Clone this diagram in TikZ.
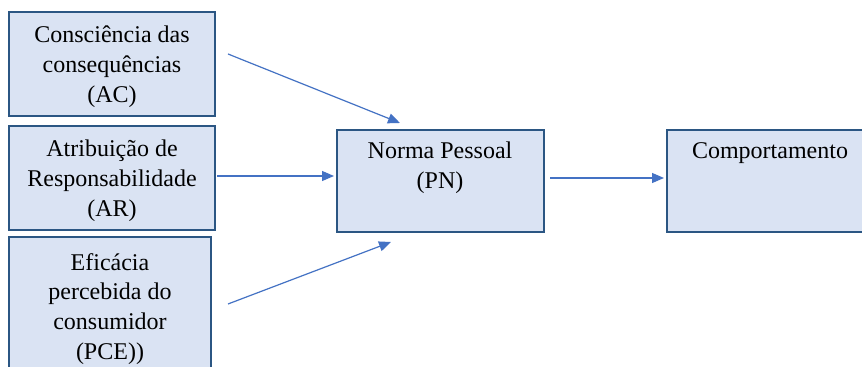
\documentclass[tikz,border=0pt]{standalone}
\usepackage{fontspec}
\setmainfont{Liberation Serif}
\usetikzlibrary{arrows.meta}
\definecolor{boxfill}{HTML}{DAE3F3}
\definecolor{boxline}{HTML}{2B5683}
\definecolor{arrowc}{HTML}{4472C4}
\begin{document}
\begin{tikzpicture}[x=0.5pt,y=-0.5pt,
  boxshape/.style={draw=boxline,line width=1pt,fill=boxfill},
  boxtext/.style={align=center,inner sep=0pt,font=\fontsize{12pt}{14.9pt}\selectfont},
  conn/.style={draw=arrowc,line width=0.6pt,-{Triangle[length=6pt,width=5pt]}}]
\clip (0,0) rectangle (862,367);
\fill[white] (0,0) rectangle (862,367);
% boxes
\draw[boxshape] (9,12) rectangle (215,116);
\draw[boxshape] (9,126) rectangle (215,230);
\draw[boxshape] (9,237) rectangle (211,385);
\draw[boxshape] (337,130) rectangle (544,232);
\draw[boxshape] (667,130) rectangle (875,232);
% texts
\node[boxtext] (ac) at (112,67) {Consciência das\\consequências\\(AC)};
\node[boxtext] (ar) at (112,181) {Atribuição de\\Responsabilidade\\(AR)};
\node[boxtext] (pce) at (110,309) {Eficácia\\percebida do\\consumidor\\(PCE))};
\node[boxtext] (pn) at (440,168) {Norma Pessoal\\(PN)};
\node[boxtext] (cp) at (770,153) {Comportamento};
% connector ends
\coordinate (a1s) at (228,54);  \coordinate (a1e) at (400,123);
\coordinate (a2s) at (217,176); \coordinate (a2e) at (334,176);
\coordinate (a3s) at (228,304); \coordinate (a3e) at (391,242);
\coordinate (a4s) at (550,178); \coordinate (a4e) at (664,178);
\draw[conn] (a1s) -- (a1e);
\draw[conn] (a2s) -- (a2e);
\draw[conn] (a3s) -- (a3e);
\draw[conn] (a4s) -- (a4e);
\end{tikzpicture}
\end{document}
